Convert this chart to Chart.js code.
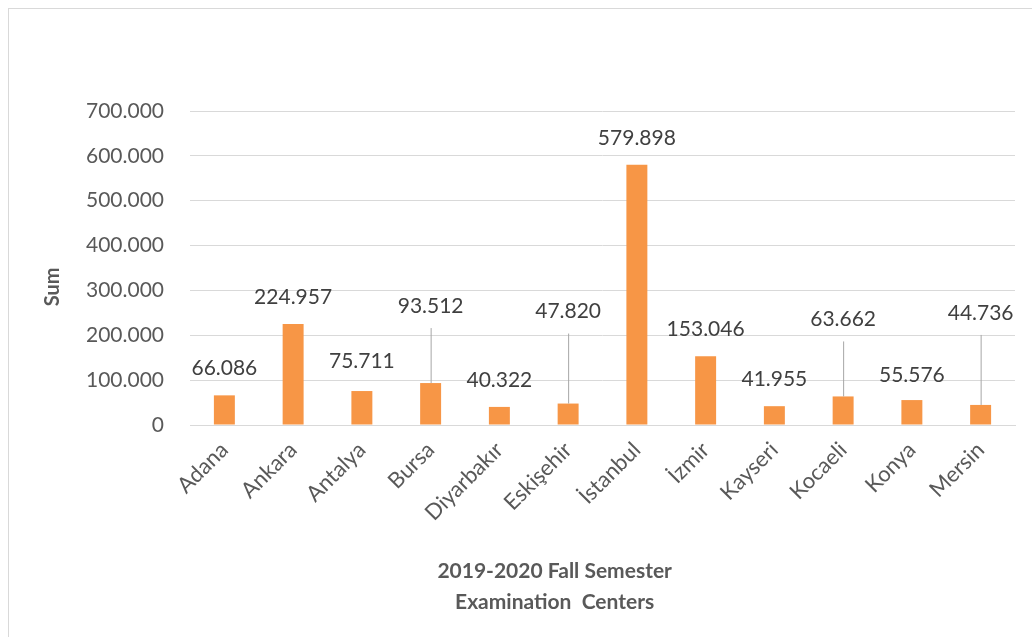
<!DOCTYPE html>
<html>
<head>
<meta charset="utf-8">
<script src="https://cdn.jsdelivr.net/npm/chart.js@4.4.1/dist/chart.umd.min.js"></script>
<style>
  html, body { margin: 0; padding: 0; background: #fff; }
  #wrap { position: relative; width: 1032px; height: 637px; overflow: hidden; }
  #frame { position: absolute; left: 8px; top: 8px; width: 1040px; height: 640px; border: 1px solid #d9d9d9; }
  canvas { position: absolute; left: 0; top: 0; }
</style>
</head>
<body>
<div id="wrap">
  <div id="frame"></div>
  <canvas id="myChart" width="1032" height="637"></canvas>
</div>
<script>
const centers = ["Adana", "Ankara", "Antalya", "Bursa", "Diyarbakır", "Eskişehir", "İstanbul", "İzmir", "Kayseri", "Kocaeli", "Konya", "Mersin"];
const sums = [66086, 224957, 75711, 93512, 40322, 47820, 579898, 153046, 41955, 63662, 55576, 44736];
// extra lift (px) for labels that Excel moved up and tied with a leader line
const labelLift = [0, 0, 3, 50, 0, 65, 0, 0, 0, 50, -2, 65];
const yTitle = "Sum";
const xTitle = ["2019-2020 Fall Semester", "Examination  Centers"];

const fmt = (v) => v.toLocaleString("de-DE");
const FONT = "Lato, 'Open Sans', sans-serif";

const barLabels = {
  id: "barLabels",
  afterDatasetsDraw(chart) {
    const ctx = chart.ctx;
    const meta = chart.getDatasetMeta(0);
    ctx.save();
    ctx.font = "21px " + FONT;
    ctx.textAlign = "center";
    ctx.textBaseline = "middle";
    meta.data.forEach((bar, i) => {
      const ly = bar.y - 27 - labelLift[i];
      if (labelLift[i] > 20) {
        ctx.strokeStyle = "#a6a6a6";
        ctx.lineWidth = 1;
        ctx.beginPath();
        ctx.moveTo(bar.x + 0.5, ly + 22);
        ctx.lineTo(bar.x + 0.5, bar.y);
        ctx.stroke();
      }
      ctx.fillStyle = "#404040";
      ctx.fillText(fmt(sums[i]), bar.x, ly);
    });
    ctx.restore();
  },
  afterDraw(chart) {
    const ctx = chart.ctx;
    const area = chart.chartArea;
    ctx.save();
    ctx.fillStyle = "#595959";
    ctx.font = "bold 20px " + FONT;
    ctx.textAlign = "center";
    ctx.textBaseline = "middle";
    ctx.translate(53, area.top + (area.bottom - area.top) * 0.56);
    ctx.rotate(-Math.PI / 2);
    ctx.fillText(yTitle, 0, 0);
    ctx.restore();

    ctx.save();
    ctx.fillStyle = "#595959";
    ctx.font = "bold 21px " + FONT;
    ctx.textAlign = "center";
    ctx.textBaseline = "middle";
    const cx = area.left + (area.right - area.left) * 0.442;
    ctx.fillText(xTitle[0], cx, 571);
    ctx.fillText(xTitle[1], cx, 602);
    ctx.restore();
  }
};

const data = {
  labels: centers,
  datasets: [
    {
      label: yTitle,
      data: sums,
      backgroundColor: "#f79646",
      barPercentage: 0.305,
      categoryPercentage: 1,
    },
  ],
};

const config = {
  type: "bar",
  data,
  options: {
    responsive: false,
    animation: false,
    layout: { padding: { top: 111, right: 17, left: 0, bottom: 0 } },
    plugins: {
      legend: { display: false },
      tooltip: { enabled: false },
    },
    scales: {
      x: {
        afterFit: (s) => { s.height = 212; },
        grid: { display: false, drawTicks: false },
        border: { display: true, color: "#d9d9d9" },
        ticks: {
          color: "#595959",
          font: { family: FONT, size: 22 },
          minRotation: 45,
          maxRotation: 45,
          padding: 12,
        },
      },
      y: {
        min: 0,
        max: 700000,
        afterFit: (s) => { s.width = 190; },
        grid: { color: "#d9d9d9", drawTicks: false },
        border: { display: false },
        ticks: {
          stepSize: 100000,
          color: "#595959",
          font: { family: FONT, size: 21 },
          padding: 26,
          callback: (v) => fmt(v),
        },
      },
    },
  },
  plugins: [barLabels],
};

var myChart = new Chart(document.getElementById("myChart"), config);
</script>
</body>
</html>
